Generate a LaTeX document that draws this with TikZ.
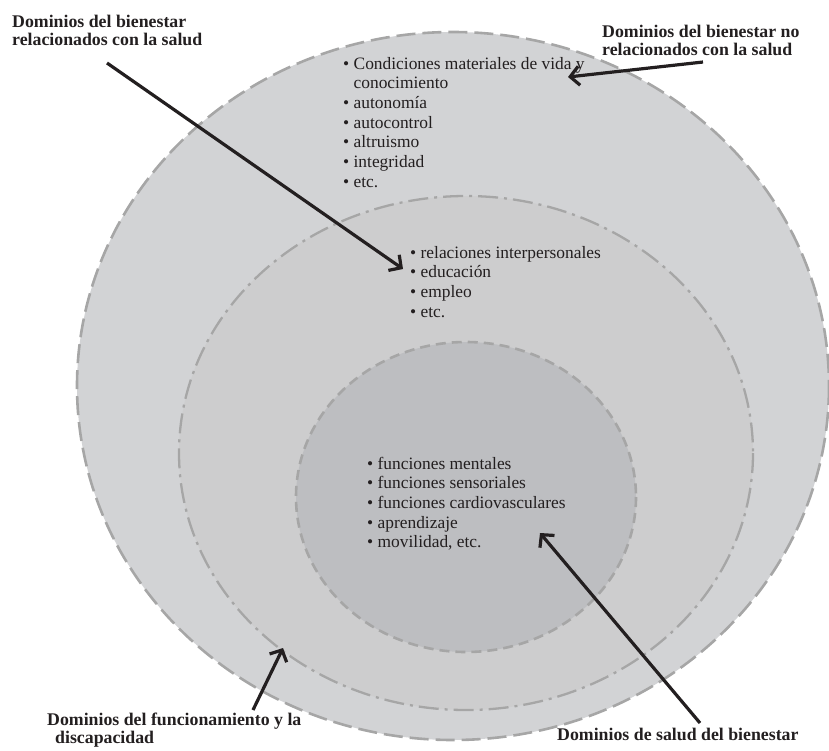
\documentclass[tikz,border=0pt]{standalone}
\usepackage{fontspec}
\setmainfont{Liberation Serif}
\usetikzlibrary{arrows.meta}
\definecolor{ringout}{HTML}{D2D3D5}
\definecolor{ringmid}{HTML}{CDCDCE}
\definecolor{ringin}{HTML}{BDBEC1}
\definecolor{ringline}{HTML}{A6A6A6}
\definecolor{ink}{HTML}{231F20}
\tikzset{%
  ring/.style={draw=ringline, line width=2.6pt},
  outerdash/.style={dash pattern=on 19pt off 7pt},
  middash/.style={dash pattern=on 20pt off 6pt on 3pt off 6pt},
  innerdash/.style={dash pattern=on 10pt off 6pt},
  pointer/.style={draw=ink, line width=3.2pt, -{Straight Barb[length=9pt, width=19pt]}},
  domlabel/.style={font=\fontsize{17.8}{18}\selectfont\bfseries, text=ink, align=left, inner sep=0pt, anchor=base west},
  itemlist/.style={font=\fontsize{17.4}{19.7}\selectfont, text=ink, align=left, inner sep=0pt, anchor=base west},
}

\begin{document}
\begin{tikzpicture}[x=1pt, y=-1pt]
    \useasboundingbox (0,0) rectangle (829,750);
    \coordinate (O1) at (453,386);
    \coordinate (O2) at (466,453);
    \coordinate (O3) at (466,497);

    %the three domains
    \path[fill=ringout] (O1) ellipse [x radius=376, y radius=354];
    \draw[ring, outerdash] (O1) ellipse [x radius=376, y radius=354];
    \path[fill=ringmid] (O2) ellipse [x radius=287, y radius=257];
    \draw[ring, middash, line width=2.3pt] (O2) ellipse [x radius=287, y radius=257];
    \path[fill=ringin] (O3) ellipse [x radius=170, y radius=155];
    \draw[ring, innerdash] (O3) ellipse [x radius=170, y radius=155];

    %lists inside the domains (placed by the baseline of their last line)
    \node[itemlist] (listout) at (343,187.2) {\textbullet\ Condiciones materiales de vida y\\
      \hphantom{\textbullet\ }conocimiento\\ \textbullet\ autonomía\\ \textbullet\ autocontrol\\
      \textbullet\ altruismo\\ \textbullet\ integridad\\ \textbullet\ etc.};
    \node[itemlist] (listmid) at (410,317.1) {\textbullet\ relaciones interpersonales\\
      \textbullet\ educación\\ \textbullet\ empleo\\ \textbullet\ etc.};
    \node[itemlist] (listin) at (367,547.8) {\textbullet\ funciones mentales\\
      \textbullet\ funciones sensoriales\\ \textbullet\ funciones cardiovasculares\\
      \textbullet\ aprendizaje\\ \textbullet\ movilidad, etc.};

    %labels
    \node[domlabel] (relsalud) at (12,45) {Dominios del bienestar\\relacionados con la salud};
    \node[domlabel] (norelsalud) at (602,55) {Dominios del bienestar no\\relacionados con la salud};
    \node[domlabel] (funcdisc) at (47,743) {Dominios del funcionamiento y la\\\hspace*{8pt}discapacidad};
    \node[domlabel] (saludbien) at (557,740) {Dominios de salud del bienestar};

    %pointers
    \coordinate (A) at (107,63);
    \coordinate (B) at (403,269);
    \coordinate (C) at (703,62);
    \coordinate (D) at (568,77);
    \coordinate (E) at (253,710);
    \coordinate (F) at (283,648);
    \coordinate (G) at (700,723);
    \coordinate (H) at (540,533);
    \draw[pointer] (A) -- (B);
    \draw[pointer] (C) -- (D);
    \draw[pointer] (E) -- (F);
    \draw[pointer] (G) -- (H);
\end{tikzpicture}
\end{document}
